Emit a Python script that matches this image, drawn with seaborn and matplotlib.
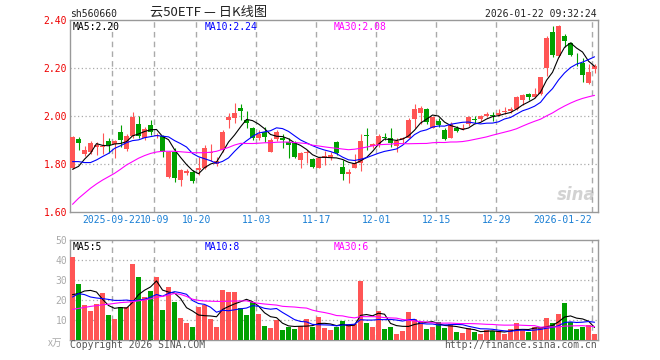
import numpy as np
import pandas as pd
import seaborn as sns
import matplotlib.pyplot as plt

# daily OHLC for the 88 sessions shown (2025-09-11 .. 2026-01-22)
opens = [1.785, 1.905, 1.843, 1.848, 1.872, 1.872, 1.896, 1.882, 1.932, 1.862,
         1.918, 1.965, 1.910, 1.962, 1.916, 1.915, 1.745, 1.850, 1.735, 1.762,
         1.766, 1.774, 1.782, 1.846, 1.801, 1.858, 1.985, 1.990, 2.035, 1.983,
         1.949, 1.910, 1.932, 1.851, 1.904, 1.910, 1.893, 1.886, 1.817, 1.845,
         1.821, 1.785, 1.823, 1.831, 1.890, 1.789, 1.760, 1.785, 1.803, 1.919,
         1.875, 1.879, 1.914, 1.910, 1.876, 1.904, 1.910, 1.987, 2.011, 2.029,
         1.951, 1.979, 1.941, 1.910, 1.951, 1.946, 1.965, 1.988, 1.986, 2.001,
         2.004, 2.004, 2.017, 2.022, 2.028, 2.067, 2.092, 2.078, 2.092, 2.199,
         2.350, 2.250, 2.333, 2.306, 2.222, 2.222, 2.136, 2.196]
closes = [1.912, 1.887, 1.858, 1.889, 1.878, 1.876, 1.879, 1.895, 1.900, 1.915,
          1.997, 1.918, 1.947, 1.935, 1.922, 1.852, 1.850, 1.740, 1.775, 1.772,
          1.728, 1.782, 1.865, 1.852, 1.812, 1.932, 1.996, 2.011, 2.021, 1.969,
          1.907, 1.925, 1.914, 1.900, 1.932, 1.900, 1.879, 1.831, 1.845, 1.849,
          1.789, 1.824, 1.833, 1.837, 1.844, 1.757, 1.765, 1.803, 1.896, 1.915,
          1.882, 1.917, 1.910, 1.886, 1.896, 1.910, 1.983, 2.029, 2.035, 1.976,
          1.997, 1.962, 1.903, 1.965, 1.937, 1.951, 1.994, 1.985, 1.999, 2.008,
          2.001, 2.014, 2.022, 2.028, 2.078, 2.087, 2.078, 2.092, 2.161, 2.326,
          2.254, 2.375, 2.314, 2.254, 2.219, 2.171, 2.185, 2.208]
highs = [1.915, 1.914, 1.875, 1.894, 1.890, 1.930, 1.907, 1.900, 1.962, 1.925,
         2.015, 2.000, 1.955, 1.985, 1.930, 1.920, 1.855, 1.865, 1.780, 1.780,
         1.775, 1.830, 1.879, 1.882, 1.830, 1.942, 2.011, 2.053, 2.050, 2.021,
         1.956, 1.940, 1.955, 1.907, 1.942, 1.924, 1.907, 1.896, 1.851, 1.858,
         1.826, 1.830, 1.854, 1.851, 1.896, 1.817, 1.780, 1.840, 1.924, 1.950,
         1.889, 1.924, 1.928, 1.951, 1.907, 1.914, 1.990, 2.049, 2.042, 2.035,
         2.000, 1.990, 1.950, 1.973, 1.960, 1.965, 2.000, 2.000, 2.004, 2.018,
         2.018, 2.028, 2.039, 2.036, 2.083, 2.092, 2.094, 2.115, 2.164, 2.333,
         2.375, 2.379, 2.340, 2.310, 2.264, 2.240, 2.215, 2.215]
lows = [1.780, 1.860, 1.832, 1.840, 1.838, 1.840, 1.845, 1.827, 1.870, 1.855,
        1.910, 1.907, 1.900, 1.920, 1.910, 1.830, 1.740, 1.725, 1.710, 1.755,
        1.722, 1.755, 1.779, 1.812, 1.792, 1.851, 1.949, 1.970, 1.983, 1.949,
        1.900, 1.900, 1.893, 1.849, 1.896, 1.865, 1.826, 1.824, 1.785, 1.803,
        1.785, 1.782, 1.796, 1.817, 1.837, 1.733, 1.720, 1.782, 1.770, 1.860,
        1.865, 1.872, 1.900, 1.872, 1.851, 1.886, 1.907, 1.949, 1.965, 1.965,
        1.949, 1.955, 1.900, 1.907, 1.935, 1.942, 1.958, 1.969, 1.979, 1.997,
        1.980, 2.000, 2.008, 2.014, 2.025, 2.046, 2.067, 2.076, 2.089, 2.167,
        2.247, 2.247, 2.289, 2.250, 2.208, 2.143, 2.133, 2.178]
# volume, 万手
volumes = [41.7, 28.2, 17.5, 14.5, 18.0, 23.7, 12.5, 10.5, 16.5, 16.5,
           38.0, 31.7, 21.7, 24.7, 31.7, 15.0, 26.7, 19.2, 11.2, 8.7,
           6.7, 16.7, 17.5, 10.5, 6.7, 25.0, 24.0, 24.0, 16.0, 12.7,
           19.0, 13.2, 7.2, 6.2, 10.2, 5.2, 6.5, 5.7, 6.8, 10.5,
           6.5, 11.7, 6.2, 5.2, 6.3, 9.7, 8.0, 8.0, 29.5, 8.5,
           6.5, 14.5, 5.5, 6.5, 3.0, 4.7, 14.2, 10.5, 9.2, 5.5,
           6.5, 9.0, 6.2, 8.0, 4.0, 3.5, 6.2, 4.2, 3.0, 5.0,
           4.5, 4.5, 3.0, 5.5, 8.5, 5.0, 4.2, 6.5, 6.2, 11.0,
           8.5, 13.2, 18.5, 9.0, 5.5, 6.5, 7.5, 3.0]

# moving-average values before enough sessions are on screen
ma5_head = [1.778, 1.790, 1.820, 1.845]
ma10_head = [1.810, 1.810, 1.806, 1.806, 1.817, 1.831, 1.844, 1.865, 1.876]
ma30_head = [1.632, 1.657, 1.678, 1.699, 1.717, 1.733, 1.747, 1.761, 1.778, 1.796,
             1.810, 1.824, 1.835, 1.844, 1.850, 1.853, 1.853, 1.853, 1.851, 1.849,
             1.847, 1.847, 1.847, 1.849, 1.853, 1.861, 1.869, 1.879, 1.886]
vma5_head = [22.7, 23.2, 24.5, 24.8]
vma10_head = [21.5, 23.2, 22.7, 21.5, 21.0, 20.7, 20.3, 19.8, 19.8]
vma30_head = [15.3, 15.8, 16.3, 16.8, 17.2, 17.6, 17.9, 18.3, 18.7, 18.9,
              19.2, 19.6, 20.0, 20.6, 21.4, 21.8, 22.5, 23.3, 22.8, 21.8,
              20.4, 19.8, 19.5, 19.4, 19.3, 19.3, 19.4, 19.5, 19.5]

tick_pos = [7, 14, 21, 31, 41, 51, 61, 71, 87]
tick_labels = ["2025-09-22", "10-09", "10-20", "11-03", "11-17",
               "12-01", "12-15", "12-29", "2026-01-22"]

price_ticks = [1.60, 1.80, 2.00, 2.20, 2.40]
vol_ticks = [10, 20, 30, 40, 50]

UP = "#ff5555"
DOWN = "#00a000"
GRID = "#aaaaaa"
MONO = "DejaVu Sans Mono"
FS = 7


def moving(values, n, head):
    s = pd.Series(values, dtype=float).rolling(n).mean()
    s.iloc[:n - 1] = head
    return s


df = pd.DataFrame({"open": opens, "close": closes, "high": highs, "low": lows,
                   "volume": volumes})
df["i"] = np.arange(len(df))
df["dir"] = np.where(df["close"] >= df["open"], "up", "down")
df["ma5"] = moving(closes, 5, ma5_head)
df["ma10"] = moving(closes, 10, ma10_head)
df["ma30"] = moving(closes, 30, ma30_head)
df["vma5"] = moving(volumes, 5, vma5_head)
df["vma10"] = moving(volumes, 10, vma10_head)
df["vma30"] = moving(volumes, 30, vma30_head)

sns.set_style("white")
plt.rcParams["font.family"] = ["DejaVu Sans Mono", "Noto Sans CJK SC"]

W, H = 660, 360
fig = plt.figure(figsize=(W / 100, H / 100), dpi=100)


def px_axes(l, t, r, b):
    return fig.add_axes([l / W, 1 - b / H, (r - l) / W, (b - t) / H])


ax = px_axes(70, 20, 598, 212)
axv = px_axes(70, 240, 598, 340)
xlim = (-0.42, len(df) - 0.42)

# ---- candles ----
colors = df["dir"].map({"up": UP, "down": DOWN})
ax.vlines(df["i"], df["low"], df["high"], colors=colors, lw=0.8, zorder=3)
body_lo = df[["open", "close"]].min(axis=1)
body_h = (df["close"] - df["open"]).abs().clip(lower=0.003)
ax.bar(df["i"], body_h, bottom=body_lo, width=0.76, color=colors, lw=0, zorder=4)

for col, c in [("ma5", "black"), ("ma10", "#0000ff"), ("ma30", "#ff00ff")]:
    sns.lineplot(data=df, x="i", y=col, color=c, lw=0.8, ax=ax, zorder=5)

ax.set_ylim(1.60, 2.40)
ax.set_yticks(price_ticks)
ax.set_yticklabels([f"{v:.2f}" for v in price_ticks], color="#ee0000",
                   fontsize=FS, family=MONO)
# gridlines sit at the left edge of the labelled session
ax.set_xticks([p - 0.4 for p in tick_pos])
ax.set_xticklabels(tick_labels, color="#1a7fd4", fontsize=FS, family=MONO)
ax.get_xticklabels()[-1].set_horizontalalignment("right")
ax.text(0.005, 0.99, "MA5:2.20", transform=ax.transAxes, va="top", fontsize=FS, color="black")
ax.text(0.255, 0.99, "MA10:2.24", transform=ax.transAxes, va="top", fontsize=FS, color="#0000ff")
ax.text(0.50, 0.99, "MA30:2.08", transform=ax.transAxes, va="top", fontsize=FS, color="#ff00ff")
ax.text(0.995, 0.09, "sina", transform=ax.transAxes, ha="right", va="center",
        fontsize=12, fontweight="bold", style="italic", color="#d2d2d2",
        family="DejaVu Sans", zorder=1)

# ---- volume ----
sns.barplot(data=df, x="i", y="volume", hue="dir", palette={"up": UP, "down": DOWN},
            native_scale=True, dodge=False, width=0.76, saturation=1, linewidth=0,
            legend=False, ax=axv, zorder=3)
for col, c in [("vma5", "black"), ("vma10", "#0000ff"), ("vma30", "#ff00ff")]:
    sns.lineplot(data=df, x="i", y=col, color=c, lw=0.8, ax=axv, zorder=5)

axv.set_ylim(0, 50)
axv.set_yticks(vol_ticks)
axv.set_yticklabels([str(v) for v in vol_ticks], color="#aaaaaa", fontsize=FS, family=MONO)
axv.set_xticks([p - 0.4 for p in tick_pos])
axv.set_xticklabels([])
axv.text(0.005, 0.98, "MA5:5", transform=axv.transAxes, va="top", fontsize=FS, color="black")
axv.text(0.255, 0.98, "MA10:8", transform=axv.transAxes, va="top", fontsize=FS, color="#0000ff")
axv.text(0.50, 0.98, "MA30:6", transform=axv.transAxes, va="top", fontsize=FS, color="#ff00ff")

for a, hl in [(ax, [1.8, 2.0, 2.2]), (axv, [10, 20, 30, 40])]:
    a.set_xlim(*xlim)
    a.set_xlabel("")
    a.set_ylabel("")
    for p in tick_pos:
        a.axvline(p - 0.4, color=GRID, ls=(0, (4, 3)), lw=1, zorder=1)
    for h in hl:
        a.axhline(h, color=GRID, ls=(0, (1, 2)), lw=0.9, zorder=1)
    a.tick_params(length=0, pad=2)
    for s in a.spines.values():
        s.set_color("#999999")
        s.set_linewidth(1)

# ---- header / footer text ----
fig.text(70 / W, 1 - 19 / H, "sh560660", fontsize=FS, color="#222222", va="bottom")
fig.text(150 / W, 1 - 19 / H, "云50ETF — 日K线图", fontsize=9.5, color="#222222", va="bottom",
         family=["Noto Sans CJK SC", "DejaVu Sans"])
fig.text(597 / W, 1 - 19 / H, "2026-01-22 09:32:24", fontsize=FS, color="#222222",
         va="bottom", ha="right")
fig.text(48 / W, 1 - 348 / H, "x万", fontsize=7, color="#aaaaaa", va="bottom",
         family=["Noto Sans CJK SC", "DejaVu Sans"])
fig.text(70 / W, 1 - 350 / H, "Copyright 2026 SINA.COM", fontsize=FS, color="#555555", va="bottom")
fig.text(597 / W, 1 - 350 / H, "http://finance.sina.com.cn", fontsize=FS, color="#555555",
         va="bottom", ha="right")

fig.savefig("out.png", dpi=100)
